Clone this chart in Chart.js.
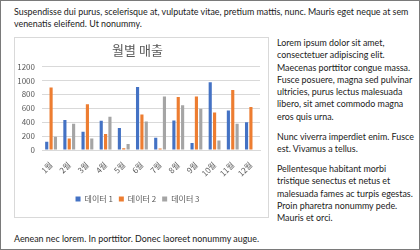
<!DOCTYPE html>
<html>
<head>
<meta charset="utf-8">
<script src="https://cdn.jsdelivr.net/npm/chart.js@4"></script>
<style>
  html, body { margin: 0; padding: 0; background: #fff; }
  #page {
    position: relative; width: 420px; height: 250px; box-sizing: border-box;
    border: 1px solid #7a7a7a; overflow: hidden;
    font-family: "Lato", sans-serif; font-size: 8.9px; color: #1a1a1a;
  }
  .txt { position: absolute; white-space: nowrap; line-height: 12.3px; }
  #chartBox {
    position: absolute; left: 13px; top: 36px; width: 255px; height: 181px;
    box-sizing: border-box; border: 1px solid #d9d9d9;
  }
</style>
</head>
<body>
<div id="page">
  <div class="txt" style="left:13px; top:5px;">Suspendisse dui purus, scelerisque at, vulputate vitae, pretium mattis, nunc. Mauris eget neque at sem<br>venenatis eleifend. Ut nonummy.</div>

  <div id="chartBox"><canvas id="salesChart"></canvas></div>

  <div class="txt" style="left:276px; top:36px;">Lorem ipsum dolor sit amet,<br>consectetuer adipiscing elit.<br>Maecenas porttitor congue massa.<br>Fusce posuere, magna sed pulvinar<br>ultricies, purus lectus malesuada<br>libero, sit amet commodo magna<br>eros quis urna.</div>
  <div class="txt" style="left:276px; top:130px;">Nunc viverra imperdiet enim. Fusce<br>est. Vivamus a tellus.</div>
  <div class="txt" style="left:276px; top:162px;">Pellentesque habitant morbi<br>tristique senectus et netus et<br>malesuada fames ac turpis egestas.<br>Proin pharetra nonummy pede.<br>Mauris et orci.</div>

  <div class="txt" style="left:13px; top:232px;">Aenean nec lorem. In porttitor. Donec laoreet nonummy augue.</div>
</div>

<script>
// 월별 매출 — monthly sales, three series
const months = ["1월", "2월", "3월", "4월", "5월", "6월", "7월", "8월", "9월", "10월", "11월", "12월"];
const data1 = [120, 430, 262, 420, 318, 905, 175, 425, 100, 975, 567, 400];
const data2 = [900, 165, 660, 230, 25, 512, 20, 762, 770, 540, 862, 620];
const data3 = [190, 378, 165, 480, 85, 410, 770, 645, 595, 135, 378, 0];
const yTicks = [0, 200, 400, 600, 800, 1000, 1200];

const TEXT = "#595959";
const GRID = "#d9d9d9";
const FONT = "'Noto Sans CJK KR', 'Noto Sans', sans-serif";

const series = [
  { label: "데이터 1", data: data1, color: "#4472C4" },
  { label: "데이터 2", data: data2, color: "#ED7D31" },
  { label: "데이터 3", data: data3, color: "#A5A5A5" },
];

new Chart(document.getElementById("salesChart").getContext("2d"), {
  type: "bar",
  data: {
    labels: months,
    datasets: series.map(s => ({
      label: s.label,
      data: s.data,
      backgroundColor: s.color,
      barPercentage: 0.72,
      categoryPercentage: 0.72,
    })),
  },
  options: {
    responsive: true,
    maintainAspectRatio: false,
    animation: false,
    layout: { padding: { left: 0, right: 8, top: 0, bottom: 4 } },
    plugins: {
      title: {
        display: true,
        text: "월별 매출",
        color: TEXT,
        font: { family: FONT, size: 13, weight: "normal" },
        padding: { top: 4, bottom: 9 },
      },
      legend: {
        position: "bottom",
        labels: {
          boxWidth: 5, boxHeight: 5,
          color: TEXT,
          font: { family: FONT, size: 8 },
          padding: 6,
        },
      },
      tooltip: { enabled: false },
    },
    scales: {
      x: {
        grid: { display: false },
        border: { color: GRID },
        ticks: { color: TEXT, font: { family: FONT, size: 8 }, minRotation: 45, maxRotation: 45, padding: 2 },
        afterFit: s => { s.height = 39; },
      },
      y: {
        min: 0,
        max: 1200,
        afterBuildTicks: s => { s.ticks = yTicks.map(v => ({ value: v })); },
        grid: { color: GRID, drawTicks: false },
        border: { display: false },
        ticks: { color: TEXT, font: { family: FONT, size: 8 }, padding: 7, callback: v => String(v) },
        afterFit: s => { s.width = 27; },
      },
    },
  },
});
</script>
</body>
</html>
